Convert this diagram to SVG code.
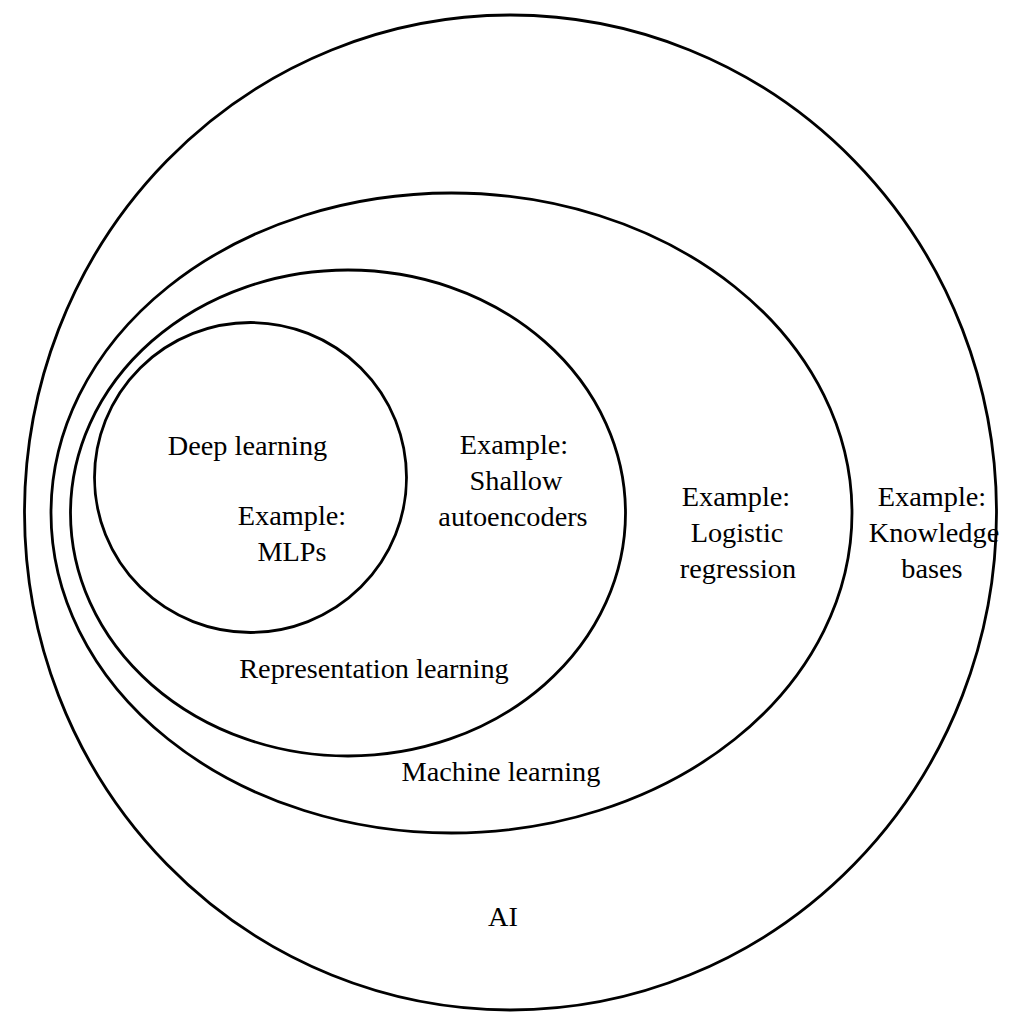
<svg xmlns="http://www.w3.org/2000/svg" width="1018" height="1034" viewBox="0 0 1018 1034">
<style>
.set{fill:none;stroke:#000;stroke-width:2.8}
text{font-family:"Liberation Serif","Times New Roman",serif;font-size:28.3px;fill:#000;text-anchor:middle}
</style>
<rect width="1018" height="1034" fill="#fff"/>
<g id="ai">
<ellipse class="set" cx="510.5" cy="512.5" rx="486" ry="497.5"/>
<text x="503" y="926">AI</text>
<text x="932" y="506">Example:</text>
<text x="934" y="542">Knowledge</text>
<text x="932" y="578">bases</text>
</g>
<g id="machine-learning">
<ellipse class="set" cx="451.5" cy="513" rx="400.5" ry="320"/>
<text x="501" y="781">Machine learning</text>
<text x="736" y="506">Example:</text>
<text x="737" y="542">Logistic</text>
<text x="738" y="578">regression</text>
</g>
<g id="representation-learning">
<ellipse class="set" cx="348" cy="513" rx="277.5" ry="243"/>
<text x="374" y="678">Representation learning</text>
<text x="514" y="454">Example:</text>
<text x="516" y="490">Shallow</text>
<text x="513" y="526">autoencoders</text>
</g>
<g id="deep-learning">
<ellipse class="set" cx="250.5" cy="477.5" rx="156" ry="155"/>
<text x="247.5" y="455">Deep learning</text>
<text x="292" y="525">Example:</text>
<text x="292" y="561">MLPs</text>
</g>
<g id="connectors"/>
</svg>
